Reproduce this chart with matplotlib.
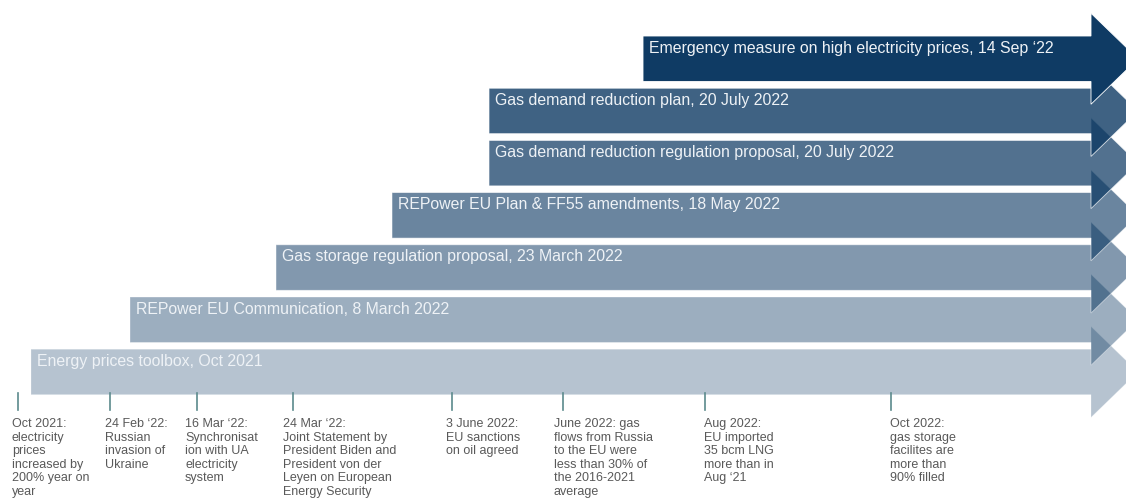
import matplotlib.pyplot as plt
from matplotlib.patches import Polygon

plt.rcParams['font.family'] = ['Liberation Sans', 'DejaVu Sans']

# policy arrows, top to bottom
arrow_labels = [
    "Emergency measure on high electricity prices, 14 Sep \u201822",
    "Gas demand reduction plan, 20 July 2022",
    "Gas demand reduction regulation proposal, 20 July 2022",
    "REPower EU Plan & FF55 amendments, 18 May 2022",
    "Gas storage regulation proposal, 23 March 2022",
    "REPower EU Communication, 8 March 2022",
    "Energy prices toolbox, Oct 2021",
]
# where each arrow starts on the (schematic) timeline
arrow_start = [643, 489, 489, 392, 276, 130, 31]
arrow_alpha = [1.0, 0.8, 0.72, 0.62, 0.52, 0.41, 0.3]

# events below the timeline
event_pos = [18, 110, 197, 293, 452, 563, 705, 891]
event_text = [
    "Oct 2021:\nelectricity\nprices\nincreased by\n200% year on\nyear",
    "24 Feb \u201822:\nRussian\ninvasion of\nUkraine",
    "16 Mar \u201822:\nSynchronisat\nion with UA\nelectricity\nsystem",
    "24 Mar \u201822:\nJoint Statement by\nPresident Biden and\nPresident von der\nLeyen on European\nEnergy Security",
    "3 June 2022:\nEU sanctions\non oil agreed",
    "June 2022: gas\nflows from Russia\nto the EU were\nless than 30% of\nthe 2016-2021\naverage",
    "Aug 2022:\nEU imported\n35 bcm LNG\nmore than in\nAug \u201821",
    "Oct 2022:\ngas storage\nfacilites are\nmore than\n90% filled",
]
event_offset = [-6, -5, -12, -10, -6, -9, -1, -1]

base = '#0f3b64'
W, H = 1126, 501

fig = plt.figure(figsize=(W / 100, H / 100), dpi=100)
ax = fig.add_axes([0, 0, 1, 1])
ax.set_xlim(0, W)
ax.set_ylim(H, 0)
ax.axis('off')

top0 = 36
step = 52.2
bh = 45.5
body_end = 1091
tip = 1138
half = 45.5

for i in range(len(arrow_labels) - 1, -1, -1):
    top = top0 + step * i
    mid = top + bh / 2
    x0 = arrow_start[i]
    pts = [(x0, top), (body_end, top), (body_end, mid - half), (tip, mid),
           (body_end, mid + half), (body_end, top + bh), (x0, top + bh)]
    ax.add_patch(Polygon(pts, closed=True, facecolor=base, alpha=arrow_alpha[i],
                         edgecolor='white', linewidth=0.6))
    ax.text(x0 + 6, top + 12, arrow_labels[i], color='#eef2f6', fontsize=11.4,
            va='center', ha='left')

for i in range(len(event_pos)):
    x = event_pos[i]
    ax.plot([x, x], [393, 410], color='#5b8a8c', lw=1.2)
    ax.text(x + event_offset[i], 418, event_text[i], color='#595959', fontsize=9,
            va='top', ha='left', linespacing=1.17)

fig.savefig('out.png', dpi=100)
